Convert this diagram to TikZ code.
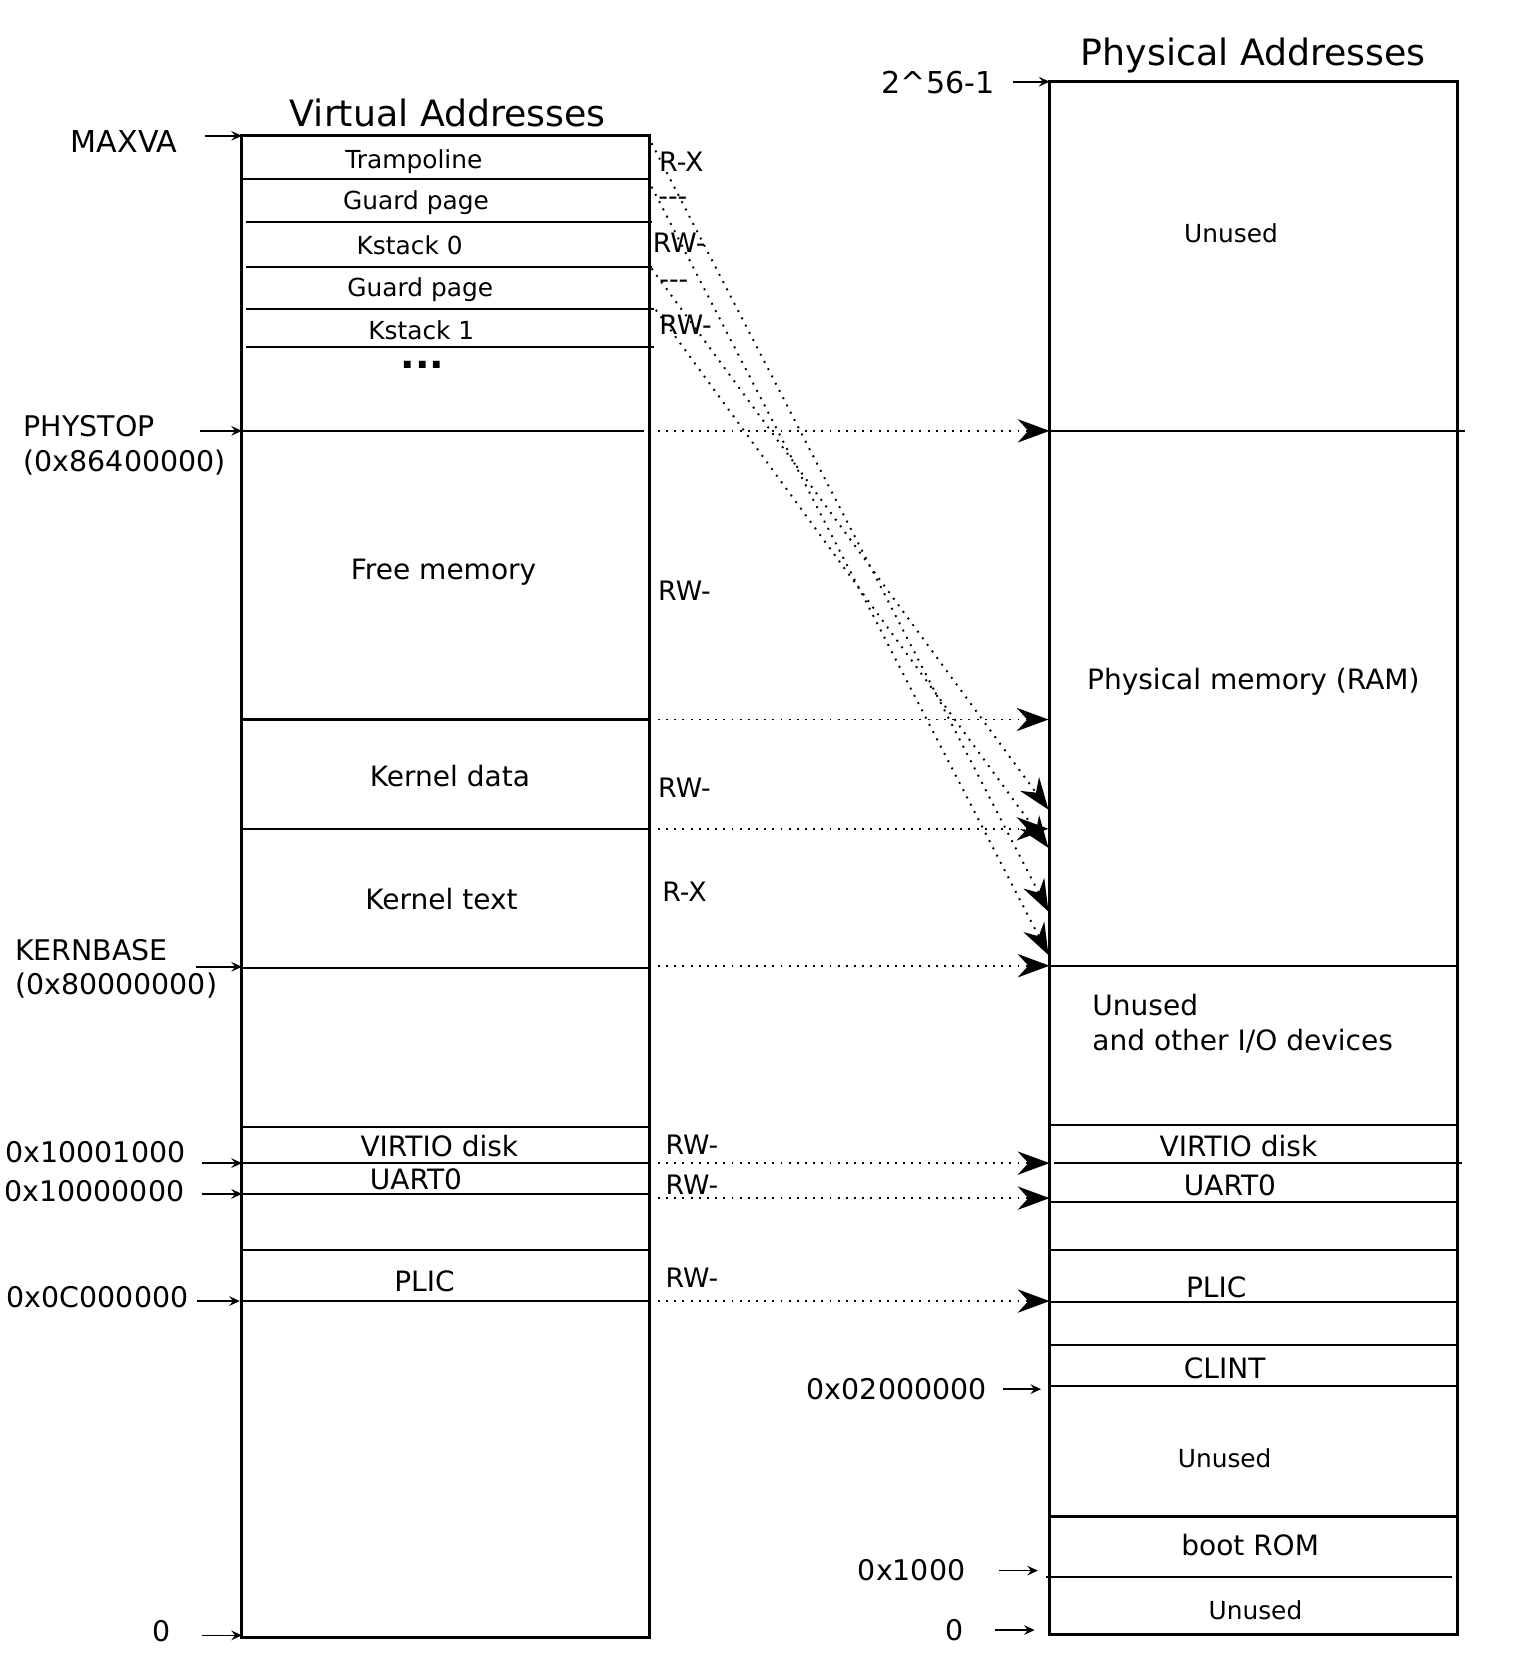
\documentclass[tikz,border=0pt]{standalone}
\usepackage{fontspec}
\setmainfont{DejaVu Sans}
\usetikzlibrary{arrows.meta}
\begin{document}
\begin{tikzpicture}[x=0.5pt,y=-0.5pt,
  box/.style={line width=1.4pt},
  divl/.style={line width=1pt},
  lbl/.style={inner sep=0pt, font=\fontsize{13.2}{15}\selectfont},
  sml/.style={inner sep=0pt, font=\fontsize{11.7}{14}\selectfont},
  perm/.style={inner sep=0pt, font=\fontsize{12.6}{15}\selectfont},
  ttl/.style={inner sep=0pt, font=\fontsize{17.1}{20}\selectfont},
  addr/.style={inner sep=0pt, font=\fontsize{13.4}{16}\selectfont},
  ptr/.style={line width=0.8pt, -{Stealth[length=5pt,width=4.5pt,inset=1.8pt]}},
  map/.style={line width=0.9pt, dash pattern=on 0.9pt off 2.95pt,
    -{Stealth[length=15pt,width=11pt,inset=5pt]}}
]
\useasboundingbox (0,0) rectangle (1449,1568);

% ---------- titles ----------
\node[ttl] (tv) at (422,106) {Virtual Addresses};
\node[ttl] (tp) at (1181,52) {Physical Addresses};

% ---------- virtual column ----------
\draw[box] (228,128) rectangle (612,1543);
\draw[divl] (228,169) -- (612,169);
\draw[divl] (232,209) -- (614,209);
\draw[divl] (232,252) -- (614,252);
\draw[divl] (232,291) -- (616,291);
\draw[divl] (232,327) -- (616,327);
\draw[divl] (228,406) -- (607,406);
\draw[divl] (228,678) -- (612,678);
\draw[divl] (228,781) -- (612,781);
\draw[divl] (228,912) -- (612,912);
\draw[divl] (228,1062) -- (612,1062);
\draw[divl] (228,1096) -- (612,1096);
\draw[divl] (228,1125) -- (612,1125);
\draw[divl] (228,1178) -- (612,1178);
\draw[divl] (228,1226) -- (612,1226);

\node[sml] (vtramp) at (390,152) {Trampoline};
\node[sml] (vguard0) at (392,191) {Guard page};
\node[sml] (vks0) at (386,231) {Kstack 0};
\node[sml] (vguard1) at (396,273) {Guard page};
\node[sml] (vks1) at (397,311) {Kstack 1};
\node[inner sep=0pt, anchor=base, text height=3.5pt, text depth=0pt,
  font=\fontsize{18}{20}\selectfont\bfseries] (vdots) at (398,347) {...};
\node[lbl] (vfree) at (418,539) {Free memory};
\node[lbl] (vkdata) at (424,731) {Kernel data};
\node[lbl] (vktext) at (416,847) {Kernel text};
\node[lbl] (vvirtio) at (414,1080) {VIRTIO disk};
\node[lbl] (vuart) at (392,1111) {UART0};
\node[lbl] (vplic) at (400,1207) {PLIC};

% permissions
\node[perm] (p1) at (642,152) {R-X};
\node[perm] (p2) at (634,190) {-{}-{}-};
\node[perm] (p3) at (640,229) {RW-};
\node[perm] (p4) at (635,268) {-{}-{}-};
\node[perm] (p5) at (646,306) {RW-};
\node[perm] (p6) at (645,557) {RW-};
\node[perm] (p7) at (645,742) {RW-};
\node[perm] (p8) at (645,840) {R-X};
\node[perm] (p9) at (652,1079) {RW-};
\node[perm] (p10) at (652,1116) {RW-};
\node[perm] (p11) at (652,1204) {RW-};

% virtual address labels
\node[addr, font=\fontsize{14.2}{16}\selectfont] (lmaxva) at (117,133) {MAXVA};
\node[addr, anchor=west] (lphys) at (22,402) {PHYSTOP};
\node[addr, anchor=west] (lphysv) at (22,436) {(0x86400000)};
\node[addr, anchor=west] (lkern) at (14,895) {KERNBASE};
\node[addr, anchor=west] (lkernv) at (14,929) {(0x80000000)};
\node[addr] (lvirtio) at (90,1086) {0x10001000};
\node[addr] (luart) at (89,1122) {0x10000000};
\node[addr] (lplic) at (92,1222) {0x0C000000};
\node[addr] (lzero) at (152,1537) {0};

\coordinate (a1s) at (193,128);  \coordinate (a1e) at (228,128);
\coordinate (a2s) at (188,406);  \coordinate (a2e) at (228,406);
\coordinate (a3s) at (185,911);  \coordinate (a3e) at (228,911);
\coordinate (a4s) at (190,1096); \coordinate (a4e) at (228,1096);
\coordinate (a5s) at (190,1125); \coordinate (a5e) at (228,1125);
\coordinate (a6s) at (186,1226); \coordinate (a6e) at (226,1226);
\coordinate (a7s) at (190,1541); \coordinate (a7e) at (228,1541);
\foreach \i in {1,...,7} { \draw[ptr] (a\i s) -- (a\i e); }

% ---------- physical column ----------
\draw[box] (989,77) rectangle (1373,1540);
\draw[divl] (989,406) -- (1380,406);
\draw[divl] (989,910) -- (1373,910);
\draw[divl] (989,1060) -- (1373,1060);
\draw[divl] (993,1096) -- (1378,1096);
\draw[divl] (989,1133) -- (1373,1133);
\draw[divl] (989,1178) -- (1373,1178);
\draw[divl] (989,1227) -- (1373,1227);
\draw[divl] (989,1267) -- (1373,1267);
\draw[divl] (989,1306) -- (1373,1306);
\draw[divl] (989,1429) -- (1373,1429);
\draw[divl] (986,1486) -- (1368,1486);

\node[sml] (punused1) at (1160,220) {Unused};
\node[lbl] (pram) at (1181,642) {Physical memory (RAM)};
\node[lbl, anchor=west] (punused2) at (1029,947) {Unused};
\node[lbl, anchor=west] (pio) at (1029,981) {and other I/O devices};
\node[lbl] (pvirtio) at (1167,1080) {VIRTIO disk};
\node[lbl] (puart) at (1159,1117) {UART0};
\node[lbl] (pplic) at (1146,1213) {PLIC};
\node[lbl] (pclint) at (1154,1289) {CLINT};
\node[sml] (punused3) at (1154,1374) {Unused};
\node[lbl] (pboot) at (1178,1456) {boot ROM};
\node[sml] (punused4) at (1183,1517) {Unused};

\node[addr, font=\fontsize{14.2}{16}\selectfont] (ltop) at (884,78) {2\textasciicircum 56-1};
\node[addr] (lclint) at (845,1309) {0x02000000};
\node[addr] (lboot) at (859,1480) {0x1000};
\node[addr] (lpzero) at (899,1536) {0};

\coordinate (b1s) at (955,77);   \coordinate (b1e) at (989,77);
\coordinate (b2s) at (945,1309); \coordinate (b2e) at (981,1309);
\coordinate (b3s) at (941,1480); \coordinate (b3e) at (978,1480);
\coordinate (b4s) at (938,1536); \coordinate (b4e) at (975,1536);
\foreach \i in {1,...,4} { \draw[ptr] (b\i s) -- (b\i e); }

% ---------- mappings ----------
\coordinate (h1s) at (620,406);  \coordinate (h1e) at (989,406);
\coordinate (h2s) at (620,678);  \coordinate (h2e) at (988,678);
\coordinate (h3s) at (620,781);  \coordinate (h3e) at (988,781);
\coordinate (h4s) at (620,910);  \coordinate (h4e) at (989,910);
\coordinate (h5s) at (620,1096); \coordinate (h5e) at (989,1096);
\coordinate (h6s) at (620,1129); \coordinate (h6e) at (989,1129);
\coordinate (h7s) at (620,1226); \coordinate (h7e) at (989,1226);
\foreach \i in {1,...,7} { \draw[map] (h\i s) -- (h\i e); }

\coordinate (d1s) at (614,135); \coordinate (d1e) at (988,859);
\coordinate (d2s) at (614,176); \coordinate (d2e) at (988,900);
\coordinate (d3s) at (614,253); \coordinate (d3e) at (988,763);
\coordinate (d4s) at (618,292); \coordinate (d4e) at (988,799);
\foreach \i in {1,...,4} { \draw[map] (d\i s) -- (d\i e); }
\end{tikzpicture}
\end{document}
